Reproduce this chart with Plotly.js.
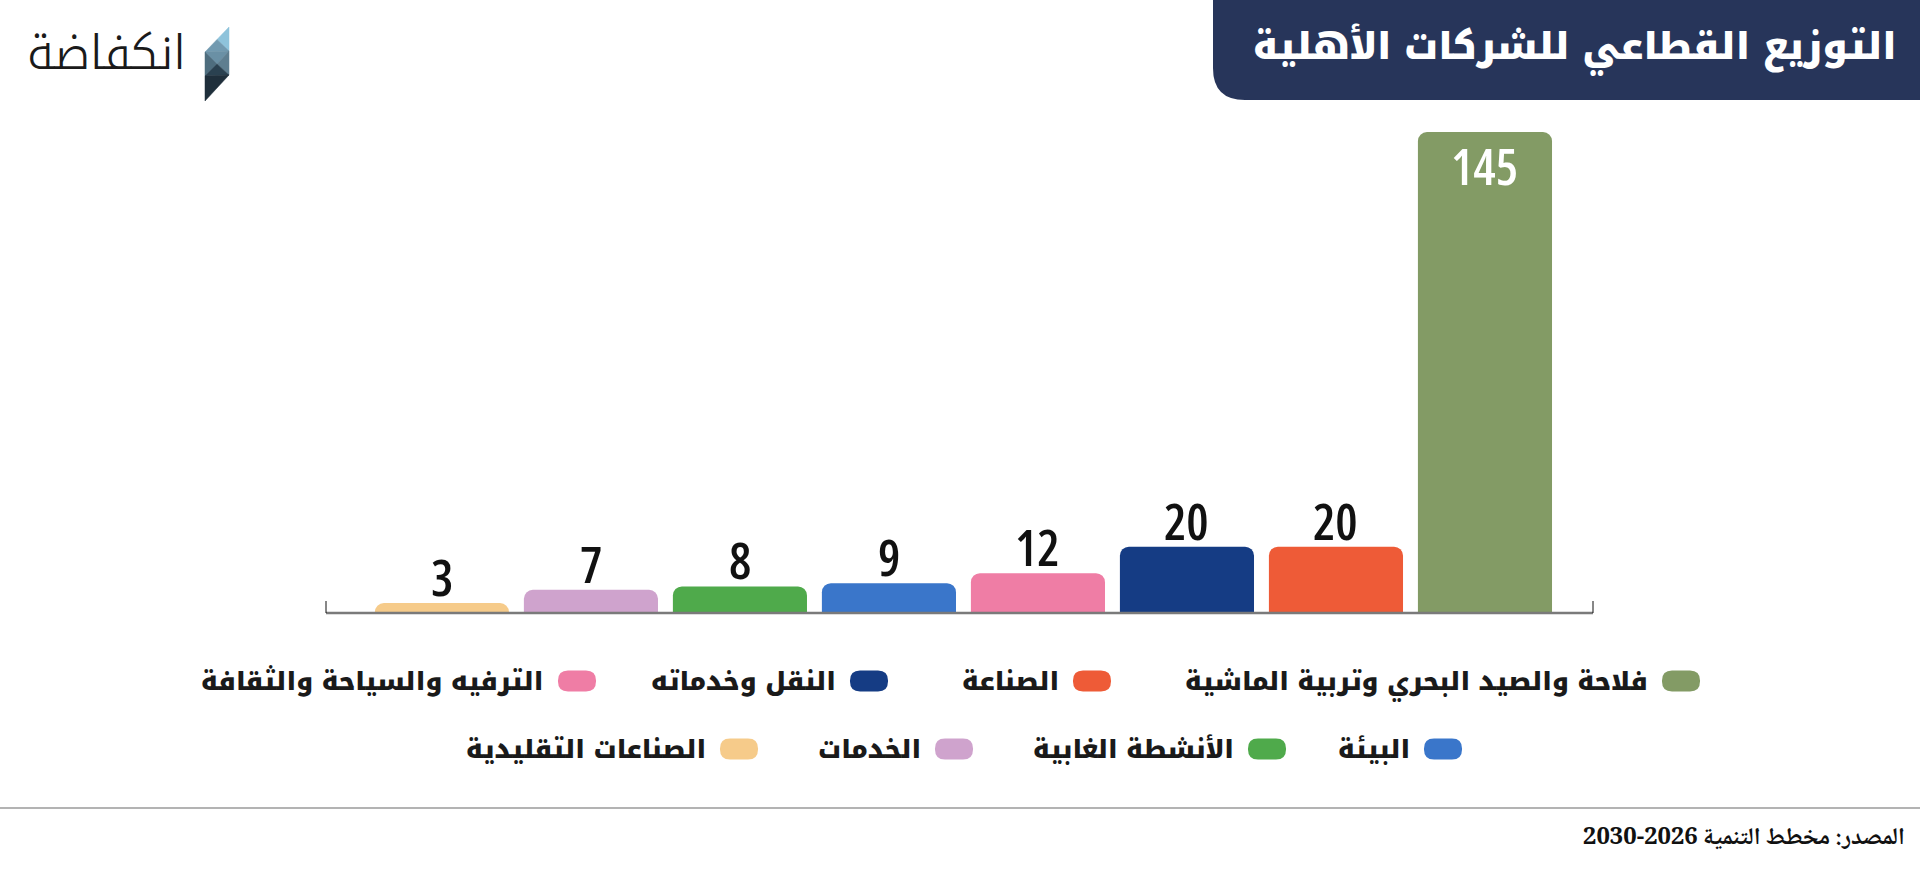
<!DOCTYPE html>
<html>
<head>
<meta charset="utf-8">
<script src="https://cdn.plot.ly/plotly-3.0.1.min.js"></script>
<style>
html,body{margin:0;padding:0;background:#fff;}
#chart{width:1920px;height:870px;}
text.annotation-text[style*="Open Sans"]{font-stretch:condensed !important;}
</style>
</head>
<body>
<div id="chart"></div>
<script>
// ---- data ----
const categories = [
  "الصناعات التقليدية",
  "الخدمات",
  "الأنشطة الغابية",
  "البيئة",
  "الترفيه والسياحة والثقافة",
  "النقل وخدماته",
  "الصناعة",
  "فلاحة والصيد البحري وتربية الماشية"
];
const values = [3, 7, 8, 9, 12, 20, 20, 145];
const colors = ["#F6CB8A", "#CFA3CD", "#4FAA4B", "#3A76CA", "#EF7DA5", "#153C84", "#EE5B37", "#839B65"];
const titleText = "التوزيع القطاعي للشركات الأهلية";
const sourceText = "المصدر: مخطط التنمية 2026-2030";
const logoText = "انكفاضة";

// ---- layout geometry (pixels) ----
const W = 1920, H = 870, ML = 326, MR = 327, MT = 100, MB = 257;
const PW = W - ML - MR, PH = H - MT - MB, BASE = H - MB;
const px2x = p => (p - ML) / PW;
const py2y = p => (BASE - p) / PH;
function P(x, y) { return px2x(x).toFixed(5) + "," + py2y(y).toFixed(5); }
function roundRect(x0, y0, x1, y1, r) {
  return "M" + P(x0 + r, y0) + " L" + P(x1 - r, y0) + " Q" + P(x1, y0) + " " + P(x1, y0 + r) +
    " L" + P(x1, y1 - r) + " Q" + P(x1, y1) + " " + P(x1 - r, y1) +
    " L" + P(x0 + r, y1) + " Q" + P(x0, y1) + " " + P(x0, y1 - r) +
    " L" + P(x0, y0 + r) + " Q" + P(x0, y0) + " " + P(x0 + r, y0) + " Z";
}
function poly(pts) {
  return "M" + pts.map(p => P(p[0], p[1])).join(" L") + " Z";
}

const AR_BOLD = "Noto Kufi Arabic, DejaVu Sans, sans-serif";
const NUM_FONT = "Open Sans, sans-serif";

const shapes = [];
const annotations = [];

// title box
shapes.push({type: "path", xref: "paper", yref: "paper", layer: "below",
  path: "M" + P(1213, 0) + " L" + P(1920, 0) + " L" + P(1920, 100) + " L" + P(1245, 100) +
        " Q" + P(1213, 100) + " " + P(1213, 68) + " Z",
  fillcolor: "#27355A", line: {width: 0}});
annotations.push({xref: "paper", yref: "paper", x: px2x(1575), y: py2y(47), xanchor: "center", yanchor: "middle",
  text: titleText, showarrow: false,
  font: {family: AR_BOLD, size: 37, weight: 900, color: "#ffffff"}});

// logo icon
const A = [229, 27], B = [229, 51], C = [229, 75], D = [205, 52], E = [205, 76], F = [205, 101], M1 = [217, 39.5], G = [217, 64];
const logoParts = [
  [[A, B, M1], "#8EC3DB"],
  [[M1, B, D], "#729AB0"],
  [[D, B, G], "#6A90A5"],
  [[D, G, E], "#4E6D7E"],
  [[B, C, G], "#5E7E90"],
  [[E, G, C], "#2A4150"],
  [[E, C, F], "#1F2F3B"]
];
logoParts.forEach(lp => shapes.push({type: "path", xref: "paper", yref: "paper", path: poly(lp[0]),
  fillcolor: lp[1], line: {width: 0.5, color: lp[1]}}));
annotations.push({xref: "paper", yref: "paper", x: px2x(188), y: py2y(54), xanchor: "right", yanchor: "middle",
  text: logoText, showarrow: false, font: {family: "Noto Kufi Arabic, DejaVu Sans", size: 47, weight: 300, color: "#1a1a1a"}});

// axis baseline and end caps
shapes.push({type: "line", xref: "paper", yref: "paper", x0: 0, x1: 1, y0: 0, y1: 0, line: {color: "#7a7a7a", width: 2.5}});
shapes.push({type: "line", xref: "paper", yref: "paper", x0: 0, x1: 0, y0: 0, y1: py2y(601), line: {color: "#111", width: 1}});
shapes.push({type: "line", xref: "paper", yref: "paper", x0: 1, x1: 1, y0: 0, y1: py2y(601), line: {color: "#111", width: 1}});

// value labels
const maxV = Math.max(...values);
values.forEach((v, i) => {
  const inside = v === maxV;
  annotations.push({x: categories[i], y: v, xref: "x", yref: "y", text: String(v), showarrow: false,
    xanchor: "center", yanchor: inside ? "top" : "bottom", yshift: inside ? 2 : -10,
    font: {family: NUM_FONT, size: 50, weight: 600, color: inside ? "#ffffff" : "#111111"}});
});

// custom RTL legend (order: categories reversed, 4 per row)
const legendPillRight = [1700, 1111, 888, 596, 1462, 1286, 973, 758];
const legendRowY = [681, 749];
const legendOrder = categories.map((c, i) => i).reverse();
legendOrder.forEach((ci, k) => {
  const xr = legendPillRight[k];
  const yc = legendRowY[Math.floor(k / 4)];
  shapes.push({type: "path", xref: "paper", yref: "paper", path: roundRect(xr - 38, yc - 10.5, xr, yc + 10.5, 10),
    fillcolor: colors[ci], line: {width: 0}});
  annotations.push({xref: "paper", yref: "paper", x: px2x(xr - 12 - 38), y: py2y(yc), xanchor: "right", yanchor: "middle",
    text: categories[ci], showarrow: false,
    font: {family: AR_BOLD, size: 25, weight: 900, color: "#1a1a1a"}});
});

// footer
shapes.push({type: "line", xref: "paper", yref: "paper", x0: px2x(0), x1: px2x(1920), y0: py2y(808), y1: py2y(808),
  line: {color: "#9a9a9a", width: 1.5}});
annotations.push({xref: "paper", yref: "paper", x: px2x(1907), y: py2y(838), xanchor: "right", yanchor: "middle",
  text: sourceText, showarrow: false, font: {family: "Noto Naskh Arabic, Liberation Serif", size: 24, weight: 700, color: "#111"}});

const trace = {
  type: "bar",
  x: categories,
  y: values,
  marker: {color: colors, cornerradius: 9, line: {width: 0}},
  hoverinfo: "skip",
  showlegend: false
};

const layout = {
  width: W, height: H,
  margin: {l: ML, r: MR, t: MT, b: MB, pad: 0},
  paper_bgcolor: "#ffffff", plot_bgcolor: "rgba(0,0,0,0)",
  bargap: 0.1,
  showlegend: false,
  xaxis: {type: "category", range: [-0.778, 7.725], showticklabels: false, showgrid: false, zeroline: false, showline: false, ticks: "", fixedrange: true},
  yaxis: {range: [0, PH / (481 / 145)], visible: false, showgrid: false, zeroline: false, fixedrange: true},
  shapes: shapes,
  annotations: annotations
};

Plotly.newPlot("chart", [trace], layout, {displayModeBar: false, staticPlot: true});
</script>
</body>
</html>
